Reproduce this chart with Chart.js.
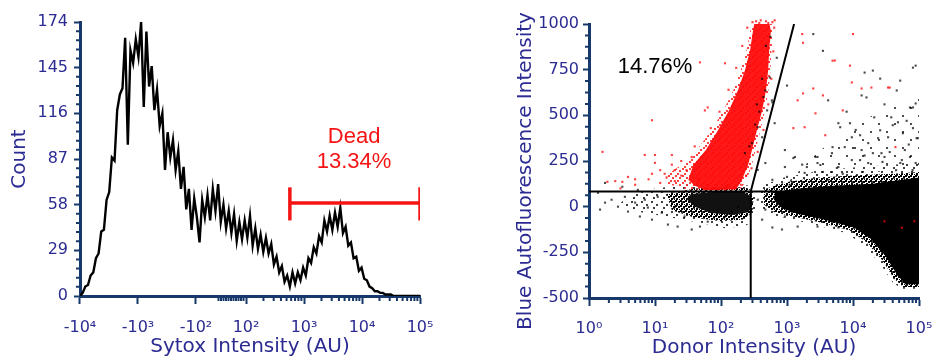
<!DOCTYPE html>
<html>
<head>
<meta charset="utf-8">
<script src="https://cdn.jsdelivr.net/npm/chart.js@4.4.1/dist/chart.umd.min.js"></script>
<style>
  body { margin: 0; background: #fff; }
  #left { position: absolute; left: 0; top: 0; }
  #right { position: absolute; left: 500px; top: 0; }
</style>
</head>
<body>
<canvas id="left" width="470" height="360"></canvas>
<canvas id="right" width="434" height="360"></canvas>
<script>
// ---- left panel: Sytox histogram (biexponential channels 0..1024) ----
const sytoxStep = 8; // channels per bin
const sytoxCounts = [
    0, 2, 6, 7, 13, 15, 24, 27, 41, 42, 61, 66, 88, 86, 118, 128, 132, 164, 96, 156,
    148, 163, 152, 174, 120, 168, 133, 146, 118, 131, 108, 116, 80, 104, 88, 99, 80, 92, 68, 82,
    55, 68, 42, 62, 50, 34, 61, 50, 64, 48, 68, 54, 71, 47, 58, 43, 54, 40, 52, 35,
    47, 36, 48, 37, 51, 32, 43, 30, 39, 28, 37, 27, 33, 20, 25, 15, 19, 9, 13, 6,
    15, 8, 15, 10, 18, 13, 24, 21, 31, 27, 38, 34, 48, 41, 51, 42, 53, 44, 56, 40,
    44, 32, 34, 24, 25, 16, 18, 11, 10, 6, 5, 3, 3, 2, 2, 1, 1, 1, 0, 0,
    0, 0, 0, 0, 0, 0, 0, 0, 0
];
const sytoxTickValues = [-10000, -1000, -100, 100, 1000, 10000, 100000];
const sytoxTickLabels = ['-10⁴', '-10³', '-10²', '10²', '10³', '10⁴', '10⁵'];
const countMax = 174;
const countStep = 29;

const deadGate = [570, 100000];   // AU
const deadGateLevel = 59;         // count
const deadCap = [48, 69];         // count
const deadLabel = ['Dead', '13.34%'];
const deadLabelAU = 7300;
const deadLabelCount = [101, 85];

// ---- right panel: donor vs blue autofluorescence ----
const donorTickValues = [1, 10, 100, 1000, 10000, 100000];
const donorTickLabels = ['10⁰', '10¹', '10²', '10³', '10⁴', '10⁵'];
const blueMin = -500, blueMax = 1000, blueStep = 250;

const gateCorner = [282, 83];
const gateDiagonalEnd = [1280, 1000];
const positiveLabel = '14.76%';
const positiveLabelAt = [10, 766];

// event clouds, outlined by density level
const redCore = [[335,1040],[518,1040],[570,962],[537,853],[518,745],[480,636],[420,527],[350,418],[295,310],[257,228],[208,147],[170,95],[60,90],[40,115],[32,147],[38,228],[59,310],[90,418],[132,527],[180,636],[230,745],[275,853],[305,962]];
const redHalo = [[310,1055],[600,1055],[620,960],[580,850],[560,740],[520,630],[460,520],[390,410],[330,300],[290,220],[240,140],[200,100],[120,85],[30,95],[14,130],[16,180],[28,240],[45,320],[72,420],[110,530],[155,640],[200,750],[245,860],[280,970]];
const blackLeftInner = [[35,70],[100,85],[200,85],[280,60],[300,10],[260,-30],[150,-45],[70,-35],[40,0],[30,40]];
const blackLeftCore = [[15,70],[40,100],[150,110],[270,100],[310,40],[300,-30],[220,-70],[100,-80],[40,-60],[18,-20]];
const blackLeftHalo = [[4,60],[10,100],[40,125],[150,125],[280,115],[330,60],[330,-40],[250,-100],[120,-120],[50,-90],[15,-55],[5,-25],[3,20]];
const blackMainCore = [[650,80],[1500,100],[5000,115],[20000,125],[40000,140],[100000,160],[100000,-425],[62000,-425],[46000,-370],[31000,-270],[18500,-175],[10500,-115],[4000,-75],[1500,-40],[850,-10],[650,30]];
const blackMainMid = [[450,95],[1000,135],[3000,160],[10000,170],[40000,180],[100000,190],[100000,-440],[58000,-440],[42000,-395],[28000,-295],[16000,-195],[9000,-130],[3500,-90],[1300,-55],[650,-30],[450,10]];
const blackMainHalo = [[380,110],[900,160],[3000,195],[10000,215],[40000,230],[100000,240],[100000,-450],[55000,-450],[40000,-415],[26000,-315],[15000,-215],[8000,-145],[3000,-105],[1200,-70],[600,-45],[380,0]];
const blackSpray = [[1000,130],[3000,300],[8000,420],[20000,500],[50000,560],[100000,600],[100000,200],[20000,190],[5000,170],[1500,140]];

const redEvents = [[9,473],[1.6,300],[7,283],[10,283],[48,790],[115,785],[1700,945],[1750,897],[10000,945],[5300,800],[9000,772],[13500,647],[3500,609],[2500,647],[1450,582],[2700,511],[1250,430],[1850,435],[3800,391],[9600,680],[19000,652],[34000,652],[44000,326],[57,527],[63,543],[18,283],[36,272],[4900,799],[1750,620],[7000,527],[36000,652],[30000,-80],[85000,-80],[55000,-115],
    [25,250],[40,330],[70,430],[95,520],[130,640],[170,760],[210,880],[250,980],[360,1050],[560,1050],[640,980],[620,850],[580,700],[520,560],[440,420],[360,300],[290,210],[15,160],[12,130],[20,200],[650,1020],[300,1050],[8,150],[5,120],[3,100],[2.5,140],[120,110],[200,120],[240,170],[160,100],[80,100],[1.9,136],[3.2,136],[3.9,163],[5,150],
    [14,180],[20,140],[25,170],[30,200],[12,200],[18,230],[10,240],[45,150],[9,180],
    [300,1010],[330,1030],[360,1045],[400,1020],[420,1050],[450,1035],[480,1015],[500,1045],[530,1025],[560,1040],[600,1010],[380,1005],[460,1055],[340,1015],[520,1005],[580,1050]];
const blackEvents = [[3500,853],[51900,690],[89000,772],[81000,543],[46000,636],[25800,701],[15000,734],[6000,457],[9600,380],[21000,489],[38000,489],[48000,462],[81000,430],[96000,375],[24000,375],[17000,348],[27000,293],[61000,310],[13500,310],[7500,326],[4800,293],[2700,272],[1000,663],[600,571],[650,457],[930,310],[4200,582],[13500,609],[89000,565],
    [20000,745],[81000,761],[73000,543],[16000,598],[6400,435],[9000,457],[12800,391],[25800,418],[40000,446],[57000,402],[92000,375],[4900,326],[10000,321],[20000,293],[36000,299],[73000,272],[12800,255],[28000,245],[52000,239],[2900,272],[2000,217],[3200,228],[5700,212],[1250,266],[1000,163],[2500,945],
    [8000,520],[30000,560],[65000,470],[11000,420],[34000,380],[70000,340],[15000,280],[45000,200],[80000,200],[7000,180],[3500,190],[1700,230],[1100,120],
    [360,201],[470,239],[600,147],[930,217],[1320,272],[1850,185],[2900,239],[4200,147],[6000,217],[9600,255],[17000,239],[30000,272],[55000,255],[89000,239],
    [470,636],[590,582],[700,815],[550,707],[500,527],[360,435],[295,348],[230,293],[420,380],[480,880],[560,930],[420,700],[440,600],[330,450],[270,330],[380,520],[350,560],
    [1.37,76],[1.47,-16],[1.75,22],[2.2,38],[2.75,0],[3.5,54],[3.9,-27],[5,22],[5.9,-54],[7,38],[7.8,-5],[9,-71],[11,54],[12.7,-33],[15.7,-98],[20,0],[22,-109],[28,-54],[36,-125],[48,-109],[63,-82],[87,-27],[115,-54],[146,-33],[180,0],[5.5,92],[3.2,109],[1.75,130],
    [360,38],[470,-16],[420,-71],[600,-114],[840,-125],[930,-54],[1450,-109],[2900,-109],[6000,-114]];

// ---- styling ----
const AXIS = '#17386b';
const INK = '#2b2b92';
const RED = '#f51414';
Chart.defaults.font.family = "'DejaVu Sans', Verdana, sans-serif";
Chart.defaults.color = INK;
Chart.defaults.animation = false;
Chart.defaults.events = [];
Chart.defaults.plugins.legend.display = false;
Chart.defaults.plugins.tooltip.enabled = false;

// biexponential display: decades above |100|, linear in between
function toChannel(v) {
    if (v >= 100) return 500 + 174.7 * Math.log10(v / 100);
    if (v <= -100) return 349.3 - 174.7 * Math.log10(-v / 100);
    return 424.65 + 0.7535 * v;
}

function logMinors(decades) {
    const out = [];
    decades.forEach(d => { for (let k = 2; k <= 9; k++) out.push(k * d); });
    return out;
}

const sytoxMinor = [-10, 0, 10, 20, 30, 40, 50, 60, 70, 80, 90]
    .concat(logMinors([100, 1000, 10000])).map(toChannel);
const countMinor = [];
for (let v = countStep / 5; v < countMax; v += countStep / 5) {
    if (Math.abs(v / countStep - Math.round(v / countStep)) > 0.01) countMinor.push(v);
}
const donorMinor = logMinors([1, 10, 100, 1000, 10000]);
const blueMinor = [];
for (let v = blueMin + blueStep / 4; v < blueMax; v += blueStep / 4) {
    if ((v - blueMin) % blueStep !== 0) blueMinor.push(v);
}

// halftone fills so that the clouds read as dots
function dotPattern(color, size, dots) {
    const c = document.createElement('canvas');
    c.width = c.height = size;
    const g = c.getContext('2d');
    g.fillStyle = color;
    dots.forEach(([x, y]) => g.fillRect(x, y, 2, 2));
    return g.createPattern(c, 'repeat');
}
const DENSE = [5, [[0, 0], [3, 1], [1, 3], [4, 4]]];
const MID = [7, [[0, 0], [4, 2], [2, 5]]];
const SPARSE = [10, [[1, 1], [6, 4], [3, 7]]];
const FAINT = [16, [[2, 3], [10, 11]]];
const pat = (color, p) => dotPattern(color, p[0], p[1]);

function minorTicks(list) {
    return {
        id: 'minorTicks',
        afterDraw(chart) {
            const ctx = chart.ctx;
            ctx.save();
            ctx.strokeStyle = AXIS;
            ctx.lineWidth = 2;
            ctx.beginPath();
            list.forEach(([id, values, len]) => {
                const s = chart.scales[id];
                values.forEach(v => {
                    const p = s.getPixelForValue(v);
                    if (s.isHorizontal()) { ctx.moveTo(p, s.top); ctx.lineTo(p, s.top + len); }
                    else { ctx.moveTo(s.right - len, p); ctx.lineTo(s.right, p); }
                });
            });
            ctx.stroke();
            ctx.restore();
        }
    };
}

const grid = { drawOnChartArea: false, tickColor: AXIS, tickWidth: 2 };
const border = { color: AXIS, width: 3 };
const xy = pts => pts.map(([x, y]) => ({ x, y }));

// fixed axis box: the plot edge does not move for overhanging labels
function fixHeight(h) {
    return s => { s.height = h; s.paddingLeft = 0; s.paddingRight = 0; };
}

function lineSet(points, color, width, order) {
    return { type: 'line', data: xy(points), borderColor: color, borderWidth: width,
             pointRadius: 0, fill: false, tension: 0, order };
}
function cloudSet(points, fillStyle, order) {
    return { type: 'line', data: xy(points), borderColor: 'rgba(0,0,0,0)', borderWidth: 0,
             backgroundColor: fillStyle, fill: 'shape', pointRadius: 0, tension: 0, order };
}
function eventSet(points, color, order) {
    return { data: xy(points), backgroundColor: color, pointStyle: 'rect',
             pointRadius: 1.5, pointBorderWidth: 0, clip: false, order };
}

// ---- left chart ----
const gx0 = toChannel(deadGate[0]), gx1 = toChannel(deadGate[1]);
new Chart(document.getElementById('left'), {
    type: 'scatter',
    data: {
        datasets: [
            lineSet(sytoxCounts.map((c, i) => [i * sytoxStep, c]), '#000', 2.4, 2),
            lineSet([[gx0, deadGateLevel], [gx1, deadGateLevel]], RED, 3.5, 1),
            lineSet([[gx0, deadCap[0]], [gx0, deadCap[1]]], RED, 3.5, 1),
            lineSet([[gx1, deadCap[0]], [gx1, deadCap[1]]], RED, 3.5, 1)
        ]
    },
    options: {
        responsive: false,
        layout: { padding: { top: 22, right: 50, left: 0, bottom: 0 } },
        scales: {
            x: {
                type: 'linear', min: 0, max: 1024,
                afterBuildTicks: s => { s.ticks = sytoxTickValues.map(v => ({ value: toChannel(v) })); },
                afterFit: fixHeight(64),
                ticks: { autoSkip: false, maxRotation: 0, padding: 14, font: { size: 16 },
                         callback: (v, i) => sytoxTickLabels[i] },
                grid: Object.assign({ tickLength: 8 }, grid),
                border,
                title: { display: true, text: 'Sytox Intensity (AU)', font: { size: 20 },
                         padding: { top: 0, bottom: 1 } }
            },
            y: {
                min: 0, max: countMax,
                afterFit: s => { s.width = 80; },
                ticks: { stepSize: countStep, padding: 6, font: { size: 16 }, callback: v => String(v) },
                grid: Object.assign({ tickLength: 6 }, grid),
                border,
                title: { display: true, text: 'Count', font: { size: 20 }, padding: { top: 8 } }
            }
        }
    },
    plugins: [
        minorTicks([['x', sytoxMinor, 5], ['y', countMinor, 4]]),
        {
            id: 'deadLabel',
            afterDatasetsDraw(chart) {
                const { ctx, scales: { x, y } } = chart;
                ctx.save();
                ctx.font = "22px 'Liberation Sans', Arial, sans-serif";
                ctx.fillStyle = RED;
                ctx.textAlign = 'center';
                ctx.textBaseline = 'middle';
                deadLabel.forEach((t, i) =>
                    ctx.fillText(t, x.getPixelForValue(toChannel(deadLabelAU)), y.getPixelForValue(deadLabelCount[i])));
                ctx.restore();
            }
        }
    ]
});

// ---- right chart ----
new Chart(document.getElementById('right'), {
    type: 'scatter',
    data: {
        datasets: [
            lineSet([[1, gateCorner[1]], [100000, gateCorner[1]]], '#000', 2, 0),
            lineSet([[gateCorner[0], blueMin], [gateCorner[0], gateCorner[1]], gateDiagonalEnd], '#000', 2, 0),
            eventSet(blackEvents, 'rgba(0,0,0,0.7)', 1),
            eventSet(redEvents, 'rgba(255,0,0,0.75)', 2),
            cloudSet(redCore, 'rgba(255,12,12,0.95)', 3),
            cloudSet(redHalo, pat('rgba(255,20,20,0.8)', MID), 4),
            cloudSet(blackLeftInner, '#111', 5),
            cloudSet(blackMainCore, '#000', 5),
            cloudSet(blackLeftCore, pat('#000', DENSE), 6),
            cloudSet(blackMainMid, pat('#000', DENSE), 6),
            cloudSet(blackLeftHalo, pat('rgba(0,0,0,0.75)', SPARSE), 7),
            cloudSet(blackMainHalo, pat('rgba(0,0,0,0.75)', SPARSE), 7),
            cloudSet(blackSpray, pat('rgba(0,0,0,0.7)', FAINT), 8)
        ]
    },
    options: {
        responsive: false,
        layout: { padding: { top: 24, right: 15, left: 0, bottom: 0 } },
        scales: {
            x: {
                type: 'logarithmic', min: 1, max: 100000,
                afterBuildTicks: s => { s.ticks = donorTickValues.map(v => ({ value: v })); },
                afterFit: fixHeight(62),
                ticks: { autoSkip: false, maxRotation: 0, padding: 13, font: { size: 16 },
                         callback: (v, i) => donorTickLabels[i] },
                grid: Object.assign({ tickLength: 8 }, grid),
                border,
                title: { display: true, text: 'Donor Intensity (AU)', font: { size: 20 },
                         padding: { top: 0, bottom: 0 } }
            },
            y: {
                min: blueMin, max: blueMax,
                afterFit: s => { s.width = 89; },
                ticks: { stepSize: blueStep, padding: 4, font: { size: 16 }, callback: v => String(v) },
                grid: Object.assign({ tickLength: 6 }, grid),
                border
            }
        }
    },
    plugins: [
        minorTicks([['x', donorMinor, 5], ['y', blueMinor, 4]]),
        {
            id: 'quadLabel',
            afterDraw(chart) {
                const { ctx, scales: { x, y } } = chart;
                ctx.save();
                ctx.font = "22px 'Liberation Sans', Arial, sans-serif";
                ctx.fillStyle = '#000';
                ctx.textAlign = 'center';
                ctx.textBaseline = 'middle';
                ctx.fillText(positiveLabel, x.getPixelForValue(positiveLabelAt[0]), y.getPixelForValue(positiveLabelAt[1]));
                // y title, sitting a little below the axis centre as in the original
                ctx.translate(y.left + 26, (y.top + y.bottom) / 2 + 10);
                ctx.rotate(-Math.PI / 2);
                ctx.font = "20px 'DejaVu Sans', Verdana, sans-serif";
                ctx.fillStyle = INK;
                ctx.fillText('Blue Autofluorescence Intensity', 0, 0);
                ctx.restore();
            }
        }
    ]
});
</script>
</body>
</html>
